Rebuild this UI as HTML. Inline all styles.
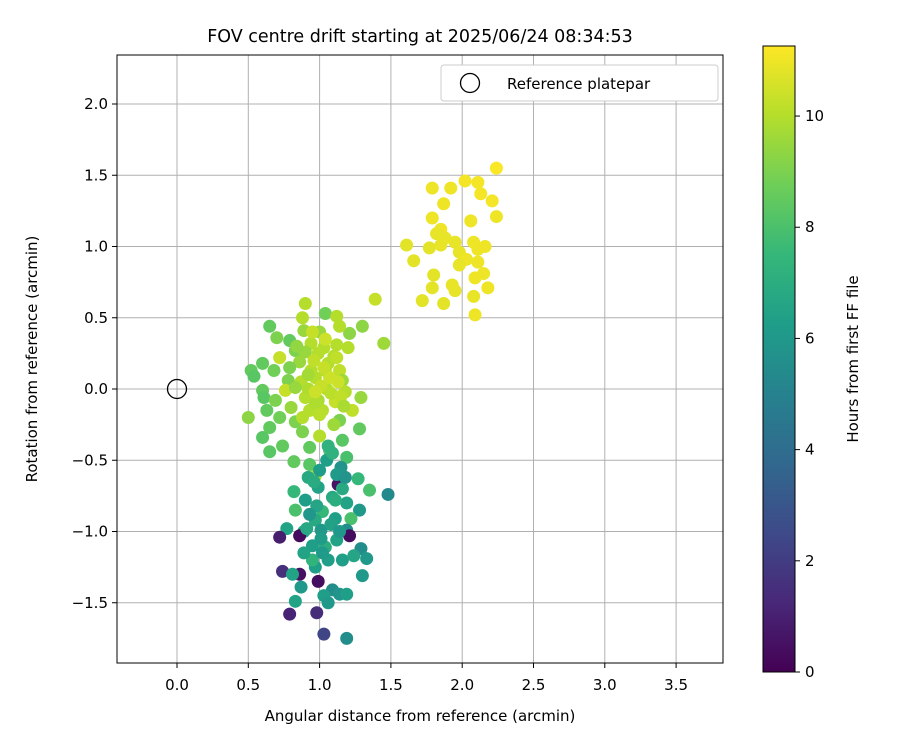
<!DOCTYPE html>
<html><head><meta charset="utf-8"><style>
body{margin:0;background:#fff;}
svg{display:block;font-family:"DejaVu Sans","Liberation Sans",sans-serif;}
</style></head><body>
<svg id="chart" width="900" height="750">
<defs>
<linearGradient id="vir" x1="0" y1="1" x2="0" y2="0">
<stop offset="0" stop-color="#440154"/><stop offset="0.111" stop-color="#482878"/>
<stop offset="0.222" stop-color="#3e4a89"/><stop offset="0.333" stop-color="#31688e"/>
<stop offset="0.444" stop-color="#26828e"/><stop offset="0.556" stop-color="#1f9e89"/>
<stop offset="0.667" stop-color="#35b779"/><stop offset="0.778" stop-color="#6ece58"/>
<stop offset="0.889" stop-color="#b5de2b"/><stop offset="1" stop-color="#fde725"/>
</linearGradient>
</defs>
<text x="420" y="42" font-size="17.5" text-anchor="middle">FOV centre drift starting at 2025/06/24 08:34:53</text>
<g id="grid"></g>
<g id="pts"></g>
<rect x="117" y="55" width="606" height="608" fill="none" stroke="#000" stroke-width="1"/>
<g id="ticks"></g>
<text x="420" y="721" font-size="15" text-anchor="middle">Angular distance from reference (arcmin)</text>
<text transform="translate(37,359) rotate(-90)" font-size="15" text-anchor="middle">Rotation from reference (arcmin)</text>
<g>
<rect x="441" y="65" width="277" height="36" rx="3" fill="#fff" stroke="#ccc"/>
<circle cx="470" cy="83" r="9.5" fill="none" stroke="#000" stroke-width="1.3"/>
<text x="507" y="89" font-size="15">Reference platepar</text>
</g>
<rect x="763" y="46" width="32" height="626" fill="url(#vir)" stroke="#000" stroke-width="1"/>
<g id="cbticks"></g>
<text transform="translate(858,359) rotate(-90)" font-size="15" text-anchor="middle">Hours from first FF file</text>
</svg>
<script>
const xTicks=[0.0,0.5,1.0,1.5,2.0,2.5,3.0,3.5];
const yTicks=[-1.5,-1.0,-0.5,0.0,0.5,1.0,1.5,2.0];
const cTicks=[0,2,4,6,8,10];
const xVals=[2.24,2.02,2.11,1.92,2.13,1.79,2.21,1.87,2.24,1.79,2.06,1.85,1.82,1.88,1.95,2.08,2.16,1.61,1.77,1.85,1.98,2.11,1.66,2.03,1.98,2.11,2.09,2.15,1.80,1.93,1.79,2.18,1.72,1.87,2.08,2.09,1.95,
0.90,1.39,1.04,1.12,0.88,0.65,1.30,1.21,0.89,1.00,1.14,0.70,0.79,1.45,0.94,1.12,1.20,0.83,1.03,0.90,0.99,0.72,1.10,0.60,0.86,0.79,0.68,0.52,0.54,0.94,1.14,1.04,0.78,0.97,1.16,0.87,0.60,0.76,0.83,1.05,1.18,1.29,0.61,0.69,0.90,0.99,1.11,0.80,0.63,0.93,1.02,1.23,0.50,0.72,0.83,1.14,0.65,1.28,0.88,1.00,0.60,0.74,0.65,1.16,0.93,1.07,0.82,1.19,0.97,0.93,
1.48,1.35,1.27,1.13,0.82,0.99,1.09,0.90,1.19,0.83,1.02,1.28,0.97,1.11,1.22,0.77,0.89,1.01,1.19,0.72,0.86,1.21,1.12,0.95,1.04,1.29,0.74,0.86,0.81,0.97,1.33,1.16,1.24,0.99,0.87,1.09,1.14,1.19,1.03,1.30,0.83,1.06,0.79,0.98,1.03,1.19,1.00,1.06,0.92,1.15,1.08,0.95,
0.96,1.06,1.13,0.92,1.01,1.08,0.97,1.15,0.84,1.04,0.95,1.10,1.17,0.88,1.00,1.07,0.92,1.12,1.03,0.97,
1.05,1.12,0.98,1.16,0.93,1.08,1.01,1.14,0.89,1.06,1.11,0.96,1.02,1.18,0.91,1.09];
const yVals=[1.55,1.46,1.45,1.41,1.37,1.41,1.32,1.30,1.21,1.20,1.18,1.12,1.09,1.06,1.03,1.03,1.00,1.01,0.99,1.01,0.96,0.98,0.90,0.91,0.87,0.89,0.78,0.81,0.80,0.73,0.71,0.71,0.62,0.60,0.65,0.52,0.69,
0.60,0.63,0.53,0.51,0.50,0.44,0.44,0.39,0.41,0.40,0.44,0.36,0.34,0.32,0.32,0.31,0.29,0.27,0.29,0.26,0.25,0.22,0.23,0.18,0.19,0.15,0.13,0.13,0.09,0.13,0.13,0.13,0.06,0.08,0.06,0.05,-0.01,-0.01,0.01,0.00,-0.02,-0.06,-0.06,-0.08,-0.06,-0.08,-0.09,-0.13,-0.15,-0.15,-0.15,-0.15,-0.20,-0.20,-0.23,-0.22,-0.27,-0.28,-0.30,-0.33,-0.34,-0.40,-0.44,-0.36,-0.41,-0.43,-0.51,-0.48,-0.61,-0.53,
-0.74,-0.71,-0.63,-0.67,-0.72,-0.69,-0.76,-0.78,-0.80,-0.85,-0.86,-0.85,-0.92,-0.91,-0.91,-0.98,-1.00,-0.99,-0.99,-1.04,-1.03,-1.03,-1.06,-1.10,-1.11,-1.12,-1.28,-1.30,-1.30,-1.25,-1.19,-1.20,-1.17,-1.35,-1.39,-1.41,-1.44,-1.44,-1.45,-1.31,-1.49,-1.50,-1.58,-1.57,-1.72,-1.75,-0.57,-0.40,-0.62,-0.55,-0.95,-1.20,
0.20,0.18,0.05,0.10,0.02,-0.03,-0.10,-0.05,0.30,0.35,0.40,-0.25,-0.12,-0.20,-0.18,0.08,0.00,0.22,0.15,-0.02,
-0.50,-0.60,-0.82,-0.70,-0.88,-0.95,-1.05,-1.00,-1.15,-1.20,-0.78,-0.65,-1.15,-0.62,-0.98,-0.45];
const hVals=[11.2,11.1,11.1,11,11.1,11,11.1,11,11,11,11,11,10.9,10.9,10.9,11,11,10.8,10.8,10.9,10.9,11,10.8,11,10.9,11,11,11,10.8,10.9,10.8,11,10.8,10.8,10.9,11,10.9,
10,10.3,8.8,10,10,8.5,9.3,9.3,9.5,9.5,10,9,8.5,9.6,10,10,10,9,10,9.5,10,10.3,10,8.5,9.5,9,8.8,8.5,8.3,10,10.2,10,9,10,9.6,10,8.5,10.3,9.5,10,10,9.5,8.3,9,10,9.8,10.3,9.5,8.5,10,10,10.2,9.3,8.8,9,9,8.5,8.5,9,10,8.3,8.5,8.3,8.3,8.5,8,8.5,8,10,8.3,
5.3,8,7.5,0.6,7.5,6.5,6.8,6.3,6.5,8,7.5,6,6.8,6.3,8,6.5,6.8,6,5.5,0.9,0.3,0.4,6.5,6.3,7,5.5,1.5,0.5,6.5,6.3,6,6.3,6.6,0.4,6,5.5,5.8,6.3,6.3,6,6.5,6,1.1,1.4,2.3,5.5,6.2,7.2,6.8,5.8,6,7.3,
10.2,10,10.4,9.7,10.3,10.1,9.9,10.2,9.4,10.4,10.3,9.6,9.8,10,10.1,10.4,9.9,10.2,10.3,10.4,
6.3,6.1,6.6,6.8,5.9,6.4,6.2,6.0,6.5,6.3,7.0,6.9,6.1,5.8,6.7,7.2];
const X0=177,XS=142.6,Y0=389,YS=142.5,HMAX=11.26;
const sx=v=>X0+v*XS, sy=v=>Y0-v*YS;
const vir=[[68,1,84],[72,40,120],[62,74,137],[49,104,142],[38,130,142],[31,158,137],[53,183,121],[110,206,88],[181,222,43],[253,231,37]];
function cmap(h){let t=Math.max(0,Math.min(1,h/HMAX))*(vir.length-1);let i=Math.min(Math.floor(t),vir.length-2),f=t-i;
const c=vir[i].map((a,k)=>Math.round(a+(vir[i+1][k]-a)*f));return `rgb(${c})`;}
const NS="http://www.w3.org/2000/svg";
function mk(tag,attrs,parent){const e=document.createElementNS(NS,tag);for(const k in attrs)e.setAttribute(k,attrs[k]);parent.appendChild(e);return e;}
const grid=document.getElementById('grid'),ticks=document.getElementById('ticks'),pts=document.getElementById('pts'),cb=document.getElementById('cbticks');
xTicks.forEach(v=>{const x=sx(v);
const g=mk('line',{x1:x,x2:x,y1:55,y2:663,stroke:'#b0b0b0','stroke-width':1},grid);


mk('line',{x1:x,x2:x,y1:663,y2:668,stroke:'#000'},ticks);
const t=mk('text',{x:x,y:690,'font-size':15,'text-anchor':'middle'},ticks);t.textContent=v.toFixed(1);

});
yTicks.forEach(v=>{const y=sy(v);
const g=mk('line',{x1:117,x2:723,y1:y,y2:y,stroke:'#b0b0b0','stroke-width':1},grid);


mk('line',{x1:112,x2:117,y1:y,y2:y,stroke:'#000'},ticks);
const t=mk('text',{x:108,y:y+5,'font-size':15,'text-anchor':'end'},ticks);t.textContent=v.toFixed(1).replace('-','\u2212');

});
for(let i=0;i<xVals.length;i++){
const c=mk('circle',{cx:sx(xVals[i]),cy:sy(yVals[i]),r:6.5,fill:cmap(hVals[i])},pts);

}
const ref=mk('circle',{cx:sx(0),cy:sy(0),r:9.5,fill:'none',stroke:'#000','stroke-width':1.3},pts);


cTicks.forEach(v=>{const y=672-v/HMAX*626;
mk('line',{x1:795,x2:800,y1:y,y2:y,stroke:'#000'},cb);
const t=mk('text',{x:805,y:y+5,'font-size':15},cb);t.textContent=v;

});
</script>
</body></html>
